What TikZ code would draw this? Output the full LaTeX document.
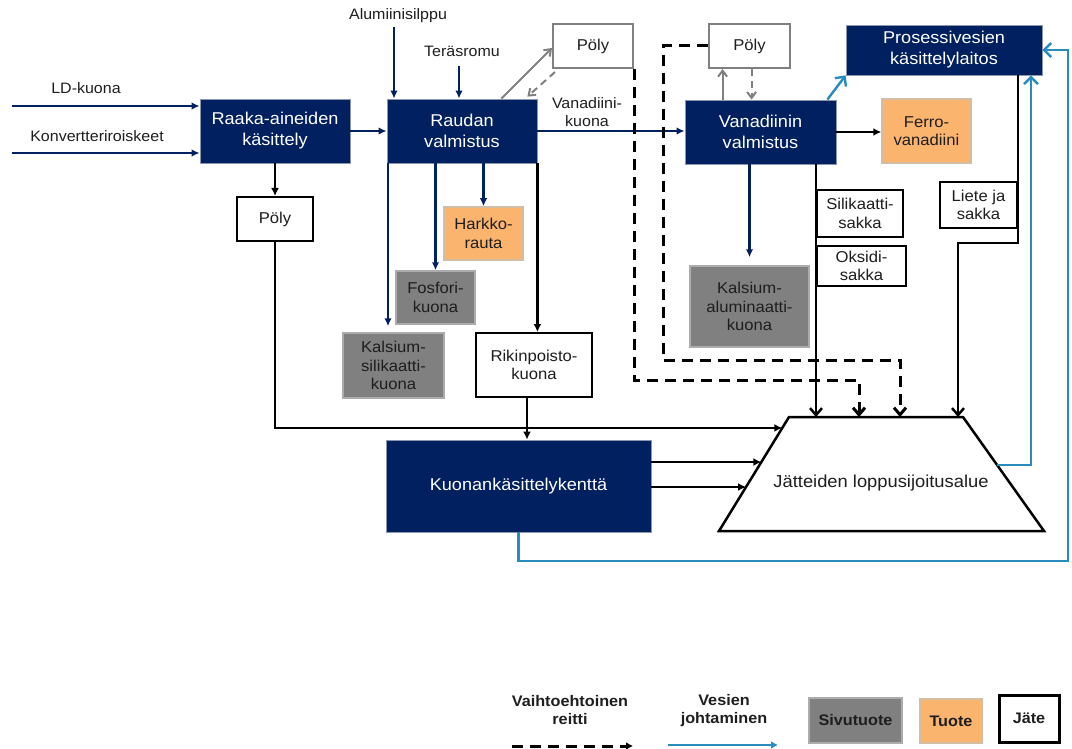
\documentclass[tikz,border=0pt]{standalone}
\usepackage{fontspec}
\setmainfont{Liberation Sans}[FakeStretch=1.06]
\usetikzlibrary{arrows.meta,calc}

\definecolor{navy}{RGB}{0,32,96}
\definecolor{navyedge}{RGB}{140,150,175}
\definecolor{waterblue}{RGB}{42,140,190}
\definecolor{byprod}{RGB}{128,128,128}
\definecolor{byprodedge}{RGB}{172,172,172}
\definecolor{prodfill}{RGB}{250,180,110}
\definecolor{prodedge}{RGB}{210,190,165}
\definecolor{dustedge}{RGB}{128,128,128}
\definecolor{ink}{RGB}{30,30,30}

\tikzset{
  procbox/.style={fill=navy, draw=navyedge, line width=0.8pt, text=white,
    font=\fontsize{17.1}{21}\selectfont, align=center, inner sep=0pt},
  wastebox/.style={fill=white, draw=black, line width=2pt, text=ink,
    font=\fontsize{15.7}{18.5}\selectfont, align=center, inner sep=0pt},
  dustbox/.style={wastebox, draw=dustedge},
  byprodbox/.style={wastebox, fill=byprod, draw=byprodedge, line width=1.5pt},
  prodbox/.style={wastebox, fill=prodfill, draw=prodedge, line width=1.5pt},
  lbl/.style={text=ink, font=\fontsize{15.1}{18.5}\selectfont, inner sep=0pt, align=center},
  legtext/.style={text=ink, font=\fontsize{15.3}{18}\selectfont\bfseries, inner sep=0pt, align=center},
  flow/.style={navy, line width=2.2pt, -{Latex[length=8pt,width=7.5pt]}},
  wflow/.style={black, line width=2.5pt, -{Latex[length=8pt,width=8pt]}},
  wflowv/.style={black, line width=2.5pt, -{Straight Barb[length=7pt,width=12pt]}},
  altroute/.style={black, line width=3pt, dash pattern=on 11pt off 7pt,
    -{Straight Barb[length=7pt,width=12pt]}},
  dustflow/.style={dustedge, line width=2pt, -{Straight Barb[length=6pt,width=9pt]}},
  dustback/.style={dustflow, dash pattern=on 7pt off 5pt},
  water/.style={waterblue, line width=2.4pt, -{Straight Barb[length=7pt,width=14pt]}},
}

\begin{document}
\begin{tikzpicture}[x=1pt,y=-1pt]
\useasboundingbox (0,0) rectangle (1072,749);

% ---- process units ----
\node[procbox, minimum width=150pt, minimum height=64pt] (raaka) at (275,131) {Raaka-aineiden\\käsittely};
\node[procbox, minimum width=150pt, minimum height=64pt] (raudan) at (462,131) {Raudan\\valmistus};
\node[procbox, minimum width=151pt, minimum height=64pt] (vanad) at (760.5,132) {Vanadiinin\\valmistus};
\node[procbox, minimum width=196pt, minimum height=50pt] (proses) at (944,50) {Prosessivesien\\käsittelylaitos};
\node[procbox, minimum width=265pt, minimum height=92pt] (kuonank) at (518.5,486) {Kuonankäsittelykenttä};

% ---- dust ----
\node[dustbox, minimum width=80pt, minimum height=44pt] (poly1) at (593,46) {Pöly};
\node[dustbox, minimum width=81pt, minimum height=44pt] (poly2) at (749.5,46) {Pöly};
\node[wastebox, minimum width=76pt, minimum height=44pt] (poly3) at (275,219) {Pöly};

% ---- products, by-products and wastes ----
\node[prodbox, minimum width=89pt, minimum height=64pt] (ferro) at (926.5,131) {Ferro-\\vanadiini};
\node[prodbox, minimum width=79pt, minimum height=53pt] (harkko) at (483.5,233.5) {Harkko-\\rauta};
\node[byprodbox, minimum width=79pt, minimum height=53pt] (fosfori) at (435.5,297.5) {Fosfori-\\kuona};
\node[byprodbox, minimum width=101pt, minimum height=65pt] (kalsil) at (393.5,365.5) {Kalsium-\\silikaatti-\\kuona};
\node[wastebox, minimum width=116pt, minimum height=64pt] (rikin) at (534,365) {Rikinpoisto-\\kuona};
\node[byprodbox, minimum width=119pt, minimum height=81pt] (kalalu) at (749.5,306.5) {Kalsium-\\aluminaatti-\\kuona};
\node[wastebox, minimum width=86pt, minimum height=47pt] (silik) at (860,213.5) {Silikaatti-\\sakka};
\node[wastebox, minimum width=89pt, minimum height=40pt] (oksidi) at (861.5,266) {Oksidi-\\sakka};
\node[wastebox, minimum width=77pt, minimum height=46pt] (liete) at (978.5,205) {Liete ja\\sakka};

% ---- final disposal area ----
\coordinate (tTL) at (789,417);
\coordinate (tTR) at (963,417);
\coordinate (tBR) at (1044,531);
\coordinate (tBL) at (719,531);
\draw[line width=2.5pt, fill=white, line join=miter] (tTL) -- (tTR) -- (tBR) -- (tBL) -- cycle;
\node[text=ink, font=\fontsize{17.3}{21}\selectfont, inner sep=0pt] (jatteet) at (881,483) {Jätteiden loppusijoitusalue};

% ---- input labels ----
\node[lbl] (ldlbl) at (86,88) {LD-kuona};
\node[lbl] (kvlbl) at (97,136) {Konvertteriroiskeet};
\node[lbl] (allbl) at (398,16) {Alumiinisilppu};
\node[lbl] (trlbl) at (462,51) {Teräsromu};
\node[lbl] (vklbl) at (587,112) {Vanadiini-\\kuona};

% ---- raw material inputs ----
\coordinate (ldin) at (12,106);
\coordinate (kvin) at (12,153);
\coordinate (alin) at (394,27);
\coordinate (trin) at (459,66);
\draw[flow] (ldin) -- (ldin -| raaka.west);
\draw[flow] (kvin) -- (kvin -| raaka.west);
\draw[flow] (alin) -- (alin |- raudan.north);
\draw[flow] (trin) -- (trin |- raudan.north);

% ---- main line ----
\draw[flow] (raaka.east) -- (raudan.west);
\draw[flow] (raudan.east) -- (raudan.east -| vanad.west);
\draw[wflow] (vanad.east) -- (vanad.east -| ferro.west);
\draw[wflow] (raaka.south) -- (poly3.north);

% ---- iron making outputs ----
\coordinate (kalsilin) at ($(kalsil.north)+(-5.5,-6)$);
\draw[flow] (kalsilin |- raudan.south) -- (kalsilin);
\draw[flow] (fosfori.north |- raudan.south) -- (fosfori.north);
\draw[flow] (harkko.north |- raudan.south) -- (harkko.north);
\draw[wflow] (raudan.south east) -- (raudan.south east |- rikin.north);
\coordinate (rk) at ($(rikin.south)+(-7,0)$);
\draw[wflow] (rk) -- (rk |- kuonank.north);

% ---- dust loops ----
\coordinate (p1a) at ($(raudan.north east)+(-36,0)$);
\coordinate (p1b) at ($(poly1.west)+(0,2)$);
\coordinate (p1c) at ($(poly1.south west)+(3,3)$);
\coordinate (p1d) at ($(raudan.north east)+(-10,-2)$);
\draw[dustflow] (p1a) -- (p1b);
\draw[dustback] (p1c) -- (p1d);
\coordinate (p2a) at ($(vanad.north west)+(38,0)$);
\coordinate (p2b) at ($(vanad.north west)+(67,0)$);
\draw[dustflow] (p2a) -- (p2a |- poly2.south);
\draw[dustback] (p2b |- poly2.south) -- (p2b);

% ---- vanadium outputs ----
\coordinate (kalaluin) at ($(kalalu.north)+(0,-8)$);
\draw[flow] (kalaluin |- vanad.south) -- (kalaluin);
\draw[wflowv] (vanad.south -| silik.west) -- (silik.west |- tTL);

% ---- alternative routes ----
\coordinate (d1) at (633,380);
\coordinate (d1e) at (859,417);
\coordinate (d2) at (663,360);
\coordinate (d2e) at (900,417);
\draw[altroute] (poly1.south east) -- (poly1.south east |- d1) -| (d1e);
\draw[altroute] (poly2.west) -| (d2) -| (d2e);

% ---- sludge from water treatment ----
\coordinate (lbend) at (958,243);
\draw[wflowv] (proses.south -| liete.east) |- (lbend) -- (lbend |- tTL);

% ---- to final disposal ----
\coordinate (jin0) at ($(tTL)!0.096!(tBL)$);
\coordinate (jin1) at ($(tTL)!0.395!(tBL)$);
\coordinate (jin2) at ($(tTL)!0.614!(tBL)$);
\draw[wflow] (poly3.south) |- (jin0);
\draw[wflow] (kuonank.east |- jin1) -- (jin1);
\draw[wflow] (kuonank.east |- jin2) -- (jin2);

% ---- water routing ----
\coordinate (vw) at ($(vanad.north east)+(-9,0)$);
\draw[water] (vw) -- (proses.south west);
\coordinate (jout) at ($(tTR)!0.42!(tBR)$);
\coordinate (wcol) at (1031,0);
\draw[water] (jout) -| (wcol |- proses.south);
\coordinate (wbot) at (518.5,561);
\coordinate (wright) at (1068,50);
\draw[water] (kuonank.south) -- (kuonank.south |- wbot) -| (wright) -- (proses.east);

% ---- legend ----
\node[legtext] (lgalt) at (570,710) {Vaihtoehtoinen\\reitti};
\coordinate (lga1) at (512,746);
\coordinate (lga2) at (633,746);
\draw[black, line width=3pt, dash pattern=on 11pt off 7pt, -{Latex[length=7pt,width=8pt]}] (lga1) -- (lga2);
\node[legtext] (lgwat) at (724,711) {Vesien\\johtaminen};
\coordinate (lgw1) at (668,745);
\coordinate (lgw2) at (778,745);
\draw[waterblue, line width=2.4pt, -{Latex[length=7pt,width=8pt]}] (lgw1) -- (lgw2);
\node[byprodbox, legtext, minimum width=93pt, minimum height=45pt] (lgsiv) at (855.5,720.5) {Sivutuote};
\node[prodbox, legtext, minimum width=62pt, minimum height=44pt] (lgtuo) at (951,721) {Tuote};
\node[wastebox, legtext, line width=3pt, minimum width=60pt, minimum height=47pt] (lgjat) at (1029,718.5) {Jäte};
\end{tikzpicture}
\end{document}
